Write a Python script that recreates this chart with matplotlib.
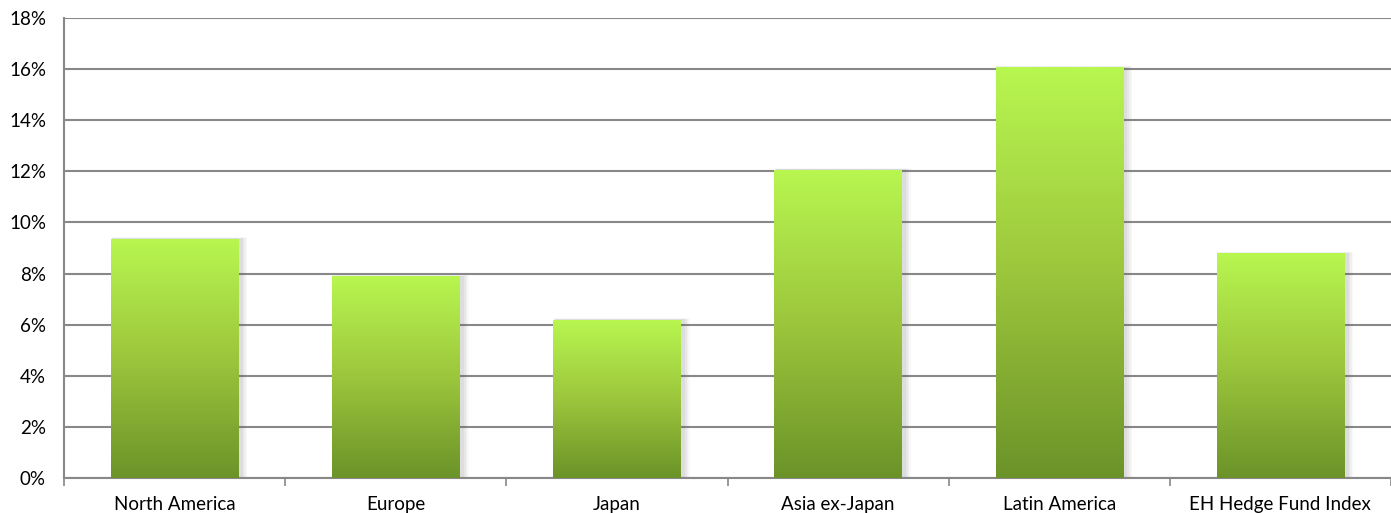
import numpy as np
import matplotlib.pyplot as plt
from matplotlib.patches import Rectangle
from matplotlib.colors import LinearSegmentedColormap
from matplotlib.ticker import FuncFormatter

categories = ['North America', 'Europe', 'Japan', 'Asia ex-Japan', 'Latin America', 'EH Hedge Fund Index']
returns = [9.35, 7.87, 6.18, 12.05, 16.05, 8.77]

plt.rcParams['font.family'] = ['Lato', 'DejaVu Sans']

fig = plt.figure(figsize=(13.91, 5.13), dpi=100)
ax = fig.add_axes([64 / 1391, 35 / 513, 1 - 64 / 1391, 460 / 513])

x = np.arange(len(categories))
width = 0.575
bars = ax.bar(x, returns, width=width, color='none', zorder=3)

grad = LinearSegmentedColormap.from_list('g', ['#6b9329', '#9cc63c', '#b8f650'])
img = np.linspace(0, 1, 256).reshape(-1, 1)

for b in bars:
    x0, w, h = b.get_x(), b.get_width(), b.get_height()
    # soft shadow, mostly to the right
    for i, a in enumerate([0.04, 0.05, 0.06, 0.07]):
        pad = 0.03 - i * 0.007
        ax.add_patch(Rectangle((x0 - pad * 0.4 + 0.012, 0), w + pad * 1.4,
                               h + pad * 2.5, color='#606060', alpha=a,
                               lw=0, zorder=2))
    ax.imshow(img, cmap=grad, extent=(x0, x0 + w, 0, h), origin='lower',
              aspect='auto', zorder=4)

ax.set_xlim(-0.5, (1391 - 64) / 222.5 - 0.5)
ax.set_ylim(0, 18)
ax.set_yticks(np.arange(0, 19, 2))
ax.yaxis.set_major_formatter(FuncFormatter(lambda v, p: f'{v:.0f}%'))
ax.set_xticks(x)
ax.set_xticklabels(categories)
ax.set_xticks(np.arange(-0.5, 6, 1), minor=True)
ax.tick_params(axis='x', which='major', length=0, pad=13, labelsize=13.5)
ax.tick_params(axis='x', which='minor', length=6, color='#888888', width=1.2)
ax.tick_params(axis='y', length=0, pad=13, labelsize=13.5)
ax.grid(axis='y', color='#888888', lw=1.5, zorder=1)
ax.set_axisbelow(True)
for s in ['top', 'right']:
    ax.spines[s].set_visible(False)
for s in ['left', 'bottom']:
    ax.spines[s].set_color('#888888')
    ax.spines[s].set_linewidth(1.5)

fig.savefig('out.png', dpi=100)
